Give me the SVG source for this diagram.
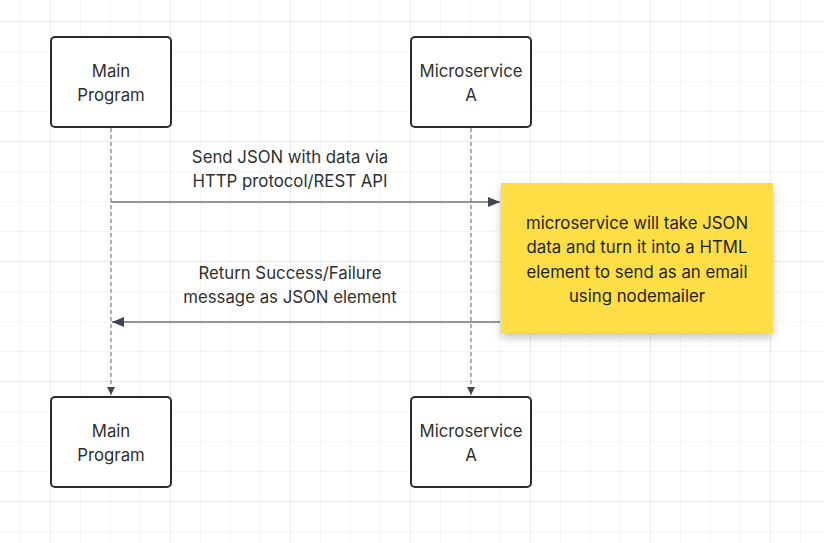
<svg xmlns="http://www.w3.org/2000/svg" width="824" height="543" viewBox="0 0 824 543">
<defs>
<pattern id="minor" x="20" y="21" width="30" height="30" patternUnits="userSpaceOnUse">
<path d="M0 0H30M0 0V30" fill="none" stroke="#ececec" stroke-width="1"/>
</pattern>
<pattern id="major" x="50" y="21" width="120" height="120" patternUnits="userSpaceOnUse">
<path d="M0 0H120M0 0V120" fill="none" stroke="#dedede" stroke-width="1"/>
</pattern>
<marker id="arr" viewBox="0 0 12 10" refX="12" refY="5" markerWidth="12" markerHeight="10" markerUnits="userSpaceOnUse" orient="auto-start-reverse">
<path d="M0 0L12 5L0 10Z" fill="#3f4652"/>
</marker>
<marker id="arrs" viewBox="0 0 8 8" refX="8" refY="4" markerWidth="8" markerHeight="8" markerUnits="userSpaceOnUse" orient="auto">
<path d="M0 0L8 4L0 8Z" fill="#3f4652"/>
</marker>
<filter id="shadow" x="-10%" y="-10%" width="125%" height="135%">
<feDropShadow dx="0" dy="5" stdDeviation="4" flood-color="#000" flood-opacity="0.22"/>
</filter>
<style>
.box{fill:#fff;stroke:#2b2b2b;stroke-width:2}
.lbl{font-family:Inter,"Liberation Sans",sans-serif;font-size:16.8px;fill:#2f2f2f;text-anchor:middle}
.note{fill:#1f1f1f}
.life{stroke:#9a9a9a;stroke-width:1.5;stroke-dasharray:4 3;fill:none}
.msg{stroke:#6f757d;stroke-width:1.5;fill:none}
</style>
</defs>
<rect width="824" height="543" fill="#fff"/>
<rect width="824" height="543" fill="url(#minor)"/>
<rect width="824" height="543" fill="url(#major)"/>
<g id="connectors">
<path class="life" d="M111 128V395" marker-end="url(#arrs)"/>
<path class="life" d="M471 128V395" marker-end="url(#arrs)"/>
<path class="msg" d="M111 202H500" marker-end="url(#arr)"/>
<path class="msg" d="M500 322H112" marker-end="url(#arr)"/>
<text class="lbl" x="290" y="163">Send JSON with data via</text>
<text class="lbl" x="290" y="187">HTTP protocol/REST API</text>
<text class="lbl" x="290" y="279">Return Success/Failure</text>
<text class="lbl" x="290" y="303">message as JSON element</text>
</g>
<g id="main-top">
<rect class="box" x="51" y="37" width="120" height="90" rx="4"/>
<text class="lbl" x="111" y="77">Main</text>
<text class="lbl" x="111" y="101">Program</text>
</g>
<g id="ms-top">
<rect class="box" x="411" y="37" width="120" height="90" rx="4"/>
<text class="lbl" x="471" y="77">Microservice</text>
<text class="lbl" x="471" y="101">A</text>
</g>
<g id="main-bottom">
<rect class="box" x="51" y="397" width="120" height="90" rx="4"/>
<text class="lbl" x="111" y="437">Main</text>
<text class="lbl" x="111" y="461">Program</text>
</g>
<g id="ms-bottom">
<rect class="box" x="411" y="397" width="120" height="90" rx="4"/>
<text class="lbl" x="471" y="437">Microservice</text>
<text class="lbl" x="471" y="461">A</text>
</g>
<g id="note">
<rect x="501" y="183" width="272" height="150" fill="#fddf45" filter="url(#shadow)"/>
<text class="lbl note" x="637" y="229">microservice will take JSON</text>
<text class="lbl note" x="637" y="253">data and turn it into a HTML</text>
<text class="lbl note" x="637" y="278">element to send as an email</text>
<text class="lbl note" x="637" y="302">using nodemailer</text>
</g>
</svg>
